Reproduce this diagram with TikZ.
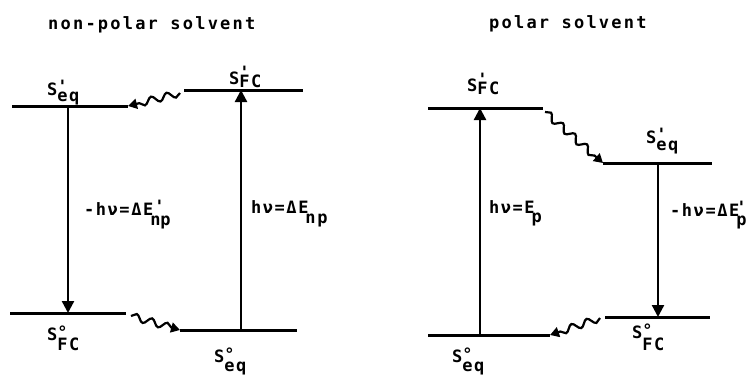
\documentclass[tikz,border=0pt]{standalone}
\usepackage{fontspec}
\usetikzlibrary{arrows.meta,decorations.pathmorphing}
\newfontfamily\titlefont[LetterSpace=13]{DejaVu Sans Mono Bold}
\newfontfamily\labelfont[LetterSpace=9]{DejaVu Sans Mono Bold}
% state name: S with raised mark and lowered index
\newcommand{\lvlname}[4][8pt]{S\rlap{\raisebox{#2}{#3}}\raisebox{-#1}{#4}}
\newcommand{\pr}{\textquotesingle}
\begin{document}
\begin{tikzpicture}[x=1pt,y=-1pt,
  level/.style={line width=3pt},
  photon/.style={line width=2.3pt, -{Triangle[length=12pt,width=12pt]}},
  relax/.style={line width=2.2pt, decorate,
                decoration={snake, amplitude=3.5pt, segment length=16pt, post length=7pt},
                -{Triangle[length=9pt,width=10pt]}},
  heading/.style={font=\fontsize{17}{20}\titlefont, inner sep=0pt, anchor=base west},
  lbl/.style={font=\fontsize{17}{20}\labelfont, inner sep=0pt, anchor=base west}]
\useasboundingbox (0,0) rectangle (752,375);

% non-polar solvent
\node[heading](npT) at (48,29){non-polar solvent};
\coordinate (eqL) at (12,106);  \coordinate (eqR) at (128,106);
\coordinate (fcL) at (184,90);  \coordinate (fcR) at (303,90);
\coordinate (gfL) at (10,313);  \coordinate (gfR) at (126,313);
\coordinate (geL) at (180,330); \coordinate (geR) at (297,330);
\draw[level](eqL)--(eqR);
\draw[level](fcL)--(fcR);
\draw[level](gfL)--(gfR);
\draw[level](geL)--(geR);
\coordinate (emA) at (68,106);  \coordinate (emB) at (68,313);
\coordinate (abA) at (241,330); \coordinate (abB) at (241,90);
\draw[photon](emA)--(emB);
\draw[photon](abA)--(abB);
\coordinate (rxA) at (180,93);  \coordinate (rxB) at (131,316);
\draw[relax](rxA)--(eqR);
\draw[relax](rxB)--(geL);
\node[lbl](nSeq) at (47,95){\lvlname[6pt]{3pt}{\pr}{eq}};
\node[lbl](nSfc) at (229,84){\lvlname[3pt]{6pt}{\pr}{FC}};
\node[lbl](nGfc) at (47,340){\lvlname[10pt]{2pt}{°}{FC}};
\node[lbl](nGeq) at (214,362){\lvlname[9pt]{2pt}{°}{eq}};
\node[lbl](nEm) at (84,215){-hν=ΔE\kern-3pt\raisebox{-10pt}{n\rlap{\kern-6pt\raisebox{13pt}{\pr}}p}};
\node[lbl](nAb) at (251,213){hν=ΔE\kern-3pt\raisebox{-10pt}{np}};

% polar solvent
\node[heading](pT) at (489,28){polar solvent};
\coordinate (pfL) at (428,108); \coordinate (pfR) at (543,108);
\coordinate (peL) at (603,163); \coordinate (peR) at (712,163);
\coordinate (qeL) at (428,335); \coordinate (qeR) at (550,335);
\coordinate (qfL) at (605,317); \coordinate (qfR) at (710,317);
\draw[level](pfL)--(pfR);
\draw[level](peL)--(peR);
\draw[level](qeL)--(qeR);
\draw[level](qfL)--(qfR);
\coordinate (pabA) at (480,335); \coordinate (pabB) at (480,108);
\coordinate (pemA) at (658,163); \coordinate (pemB) at (658,317);
\draw[photon](pabA)--(pabB);
\draw[photon](pemA)--(pemB);
\coordinate (prxA) at (545,112); \coordinate (prxB) at (600,318);
\draw[relax](prxA)--(peL);
\draw[relax](prxB)--(qeR);
\node[lbl](pSfc) at (467,91){\lvlname[3pt]{6pt}{\pr}{FC}};
\node[lbl](pSeq) at (646,143){\lvlname[7pt]{3pt}{\pr}{eq}};
\node[lbl](pGfc) at (632,338){\lvlname[12pt]{2pt}{°}{FC}};
\node[lbl](pGeq) at (452,362){\lvlname[9pt]{2pt}{°}{eq}};
\node[lbl](pAb) at (489,213){hν=E\kern-3pt\raisebox{-9pt}{p}};
\node[lbl](pEm) at (670,216){-hν=ΔE\kern-3pt\rlap{\raisebox{3pt}{\pr}}\raisebox{-9pt}{p}};
\end{tikzpicture}
\end{document}
